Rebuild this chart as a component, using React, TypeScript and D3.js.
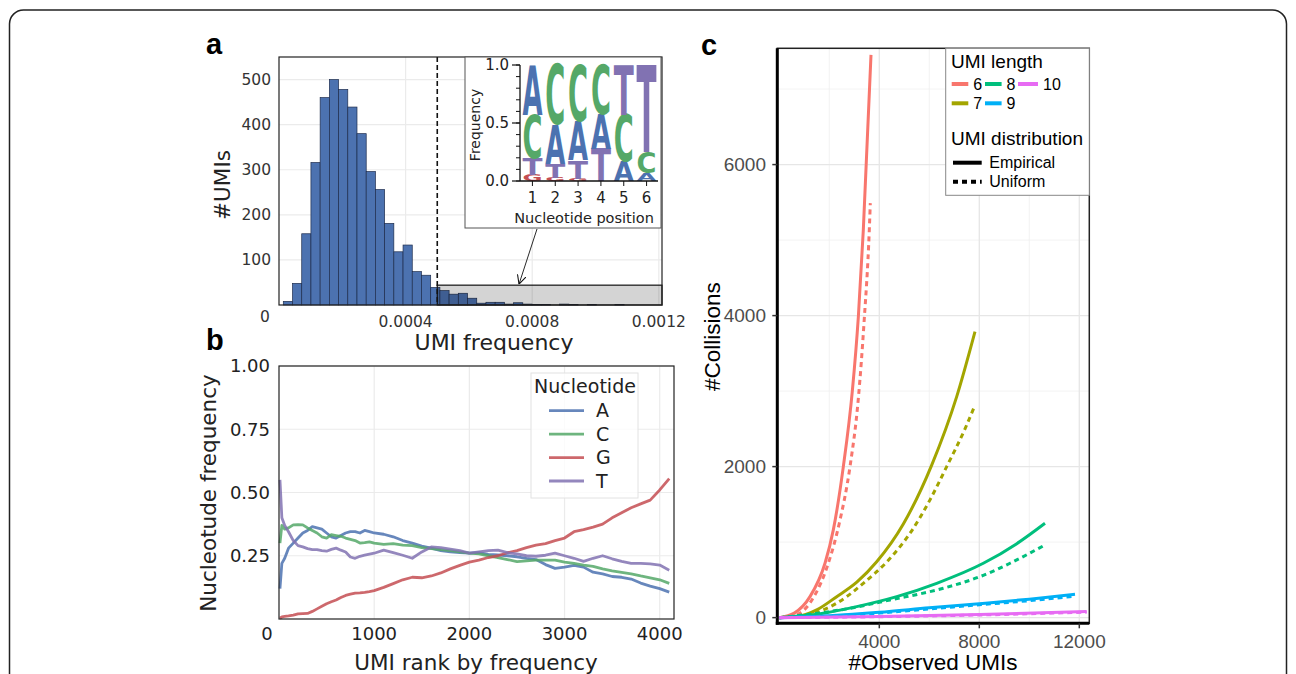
import React, { useEffect, useRef } from "react"
import * as d3 from "d3"

const W = 1296
const H = 674
const MPL_FONT = "'DejaVu Sans', sans-serif"
const GG_FONT = "'Liberation Sans', Arial, sans-serif"

// ---- panel a: histogram of UMI frequencies ----
const HIST_START = 0.0000136
const HIST_BIN = 0.0000291
const HIST_COUNTS = [8, 48, 158, 316, 460, 500, 478, 439, 380, 296, 256, 181, 118, 133, 74, 66, 39, 32, 24, 26, 15, 4, 6, 6, 2, 5, 2, 1, 1, 0, 2, 1, 0, 1, 0, 0, 1]
const HIST_CUTOFF = 0.0005
const HIST_BOX_TOP = 44
const A_YTICKS = [100, 200, 300, 400, 500]
const A_XTICKS = [0.0004, 0.0008, 0.0012]
const A_XLABELS = ["0.0004", "0.0008", "0.0012"]

// inset logo (frequency of each nucleotide per position)
const POSITIONS = [1, 2, 3, 4, 5, 6]
const NUCS = ["A", "C", "G", "T"]
const NUC_COLORS = ["#4c72b0", "#55a868", "#c44e52", "#8172b2"]
const LOGO_A = [0.43, 0.34, 0.34, 0.3, 0.17, 0.07]
const LOGO_C = [0.37, 0.51, 0.48, 0.42, 0.4, 0.18]
const LOGO_G = [0.05, 0.03, 0.02, 0.0, 0.0, 0.0]
const LOGO_T = [0.15, 0.12, 0.16, 0.28, 0.43, 0.75]
const LOGO_YTICKS = [0, 0.5, 1]
const LOGO_YLABELS = ["0.0", "0.5", "1.0"]

// ---- panel b: nucleotide frequency by UMI rank ----
const RANKS = [10, 30, 60, 100, 150, 200, 250, 300, 350, 400, 450, 500, 550, 600, 650, 700, 750, 800, 850, 900, 950, 1000, 1100, 1200, 1300, 1400, 1500, 1600, 1700, 1800, 1900, 2000, 2100, 2200, 2300, 2400, 2500, 2600, 2700, 2800, 2900, 3000, 3100, 3200, 3300, 3400, 3500, 3600, 3700, 3800, 3900, 4000, 4100]
const FREQ_A = [0.12, 0.22, 0.24, 0.28, 0.3, 0.32, 0.34, 0.35, 0.365, 0.36, 0.355, 0.34, 0.325, 0.32, 0.33, 0.34, 0.345, 0.345, 0.34, 0.35, 0.345, 0.34, 0.335, 0.325, 0.31, 0.3, 0.288, 0.28, 0.27, 0.265, 0.262, 0.26, 0.262, 0.255, 0.253, 0.25, 0.246, 0.24, 0.235, 0.215, 0.2, 0.205, 0.212, 0.205, 0.185, 0.178, 0.168, 0.165, 0.158, 0.142, 0.13, 0.12, 0.106]
const FREQ_C = [0.3, 0.37, 0.355, 0.36, 0.372, 0.373, 0.372, 0.36, 0.35, 0.34, 0.325, 0.32, 0.333, 0.33, 0.327, 0.32, 0.315, 0.31, 0.3, 0.302, 0.305, 0.3, 0.295, 0.298, 0.292, 0.29, 0.282, 0.278, 0.274, 0.27, 0.265, 0.26, 0.257, 0.25, 0.243, 0.235, 0.227, 0.23, 0.233, 0.233, 0.233, 0.225, 0.22, 0.213, 0.208, 0.198, 0.19, 0.184, 0.178, 0.17, 0.163, 0.155, 0.141]
const FREQ_G = [0.003, 0.008, 0.01, 0.012, 0.015, 0.02, 0.021, 0.022, 0.03, 0.04, 0.05, 0.06, 0.068, 0.075, 0.085, 0.093, 0.098, 0.102, 0.103, 0.105, 0.108, 0.112, 0.125, 0.14, 0.155, 0.165, 0.163, 0.17, 0.182, 0.198, 0.212, 0.225, 0.233, 0.243, 0.25, 0.262, 0.27, 0.282, 0.292, 0.298, 0.31, 0.32, 0.345, 0.353, 0.363, 0.375, 0.4, 0.42, 0.44, 0.455, 0.47, 0.51, 0.555]
const FREQ_T = [0.55, 0.4, 0.37, 0.345, 0.31, 0.29, 0.285, 0.278, 0.274, 0.274, 0.27, 0.268, 0.275, 0.28, 0.272, 0.265, 0.245, 0.24, 0.248, 0.252, 0.256, 0.26, 0.272, 0.262, 0.252, 0.24, 0.265, 0.285, 0.282, 0.276, 0.27, 0.26, 0.265, 0.27, 0.272, 0.262, 0.257, 0.25, 0.248, 0.252, 0.26, 0.25, 0.24, 0.228, 0.24, 0.25, 0.238, 0.228, 0.22, 0.22, 0.218, 0.213, 0.193]
const B_YTICKS = [0.25, 0.5, 0.75, 1]
const B_YLABELS = ["0.25", "0.50", "0.75", "1.00"]
const B_XTICKS = [1000, 2000, 3000, 4000]

// ---- panel c: collisions vs observed UMIs ----
const UMI_LENGTHS = ["6", "7", "8", "9", "10"]
const LEN_COLORS = ["#F8766D", "#A3A500", "#00BF7D", "#00B0F6", "#E76BF3"]
const L6_EMP = [[0, 0], [600, 60], [1228, 278], [1828, 720], [2161, 1162], [2561, 2000], [2921, 3000], [3161, 3980], [3361, 5135], [3668, 7453]]
const L6_UNI = [[0, 0], [700, 40], [1388, 278], [1961, 720], [2400, 1250], [2828, 2000], [3161, 2900], [3388, 3900], [3600, 5135], [3640, 5489]]
const L7_EMP = [[0, 0], [800, 20], [1496, 102], [2296, 278], [3100, 470], [3896, 740], [4961, 1240], [6096, 2020], [7096, 2927], [7828, 3788]]
const L7_UNI = [[0, 0], [1000, 30], [1761, 102], [2696, 278], [3361, 455], [4361, 760], [5296, 1150], [6028, 1560], [6696, 2000], [7428, 2500], [7828, 2815]]
const L8_EMP = [[0, 0], [1761, 58], [3096, 146], [4696, 278], [6296, 455], [8161, 720], [9500, 980], [10628, 1250]]
const L8_UNI = [[0, 0], [2828, 124], [4428, 234], [6561, 389], [8028, 543], [9228, 720], [10628, 963]]
const L9_EMP = [[0, 0], [2000, 25], [4000, 70], [6000, 130], [8000, 185], [10000, 245], [11828, 310]]
const L9_UNI = [[0, 0], [2000, 20], [4000, 60], [6000, 115], [8000, 170], [10000, 225], [11828, 285]]
const L10_EMP = [[0, 0], [4000, 15], [8000, 40], [12295, 80]]
const L10_UNI = [[0, 0], [4000, 12], [8000, 35], [12295, 72]]
const C_YTICKS = [0, 2000, 4000, 6000]
const C_YMINOR = [1000, 3000, 5000, 7000]
const C_XTICKS = [4000, 8000, 12000]
const C_XMINOR = [2000, 6000, 10000]

function hLines(g, vals, x1, x2, y, color, width) {
  g.append("g")
    .selectAll("line")
    .data(vals)
    .join("line")
    .attr("x1", x1)
    .attr("x2", x2)
    .attr("y1", (d) => y(d))
    .attr("y2", (d) => y(d))
    .attr("stroke", color)
    .attr("stroke-width", width)
}

function vLines(g, vals, y1, y2, x, color, width) {
  g.append("g")
    .selectAll("line")
    .data(vals)
    .join("line")
    .attr("y1", y1)
    .attr("y2", y2)
    .attr("x1", (d) => x(d))
    .attr("x2", (d) => x(d))
    .attr("stroke", color)
    .attr("stroke-width", width)
}

function drawA(svg) {
  const x = d3.scaleLinear().domain([0, 0.00121]).range([279, 662])
  const y = d3.scaleLinear().domain([0, 550]).range([305, 57])
  const g = svg.append("g").attr("font-family", MPL_FONT)

  hLines(g, A_YTICKS, 279, 662, y, "#ebebeb", 1.2)
  vLines(g, A_XTICKS, 57, 305, x, "#ebebeb", 1.2)

  const bins = HIST_COUNTS.map((c, i) => ({ x0: HIST_START + i * HIST_BIN, c })).filter((d) => d.c > 0)
  g.append("g")
    .selectAll("rect")
    .data(bins)
    .join("rect")
    .attr("x", (d) => x(d.x0))
    .attr("width", x(HIST_BIN) - x(0))
    .attr("y", (d) => y(d.c))
    .attr("height", (d) => y(0) - y(d.c))
    .attr("fill", "#4c72b0")
    .attr("stroke", "#1e2d4d")
    .attr("stroke-width", 0.7)

  // shaded tail region
  g.append("rect")
    .attr("x", x(HIST_CUTOFF))
    .attr("y", y(HIST_BOX_TOP))
    .attr("width", 662 - x(HIST_CUTOFF))
    .attr("height", y(0) - y(HIST_BOX_TOP))
    .attr("fill", "rgba(0,0,0,0.17)")
    .attr("stroke", "#111")
    .attr("stroke-width", 1.2)

  g.append("line")
    .attr("x1", x(HIST_CUTOFF))
    .attr("x2", x(HIST_CUTOFF))
    .attr("y1", 57)
    .attr("y2", 305)
    .attr("stroke", "#111")
    .attr("stroke-width", 1.6)
    .attr("stroke-dasharray", "5,3")

  g.append("rect")
    .attr("x", 279)
    .attr("y", 57)
    .attr("width", 383)
    .attr("height", 248)
    .attr("fill", "none")
    .attr("stroke", "#222")
    .attr("stroke-width", 1.2)

  g.append("g")
    .selectAll("text")
    .data(A_YTICKS)
    .join("text")
    .attr("x", 271)
    .attr("y", (d) => y(d))
    .attr("dy", "0.35em")
    .attr("text-anchor", "end")
    .attr("font-size", 15.5)
    .attr("fill", "#333")
    .text((d) => d)
  g.append("text")
    .attr("x", 265)
    .attr("y", y(0) + 12)
    .attr("dy", "0.35em")
    .attr("text-anchor", "middle")
    .attr("font-size", 15.5)
    .attr("fill", "#333")
    .text("0")
  g.append("g")
    .selectAll("text")
    .data(A_XTICKS)
    .join("text")
    .attr("x", (d) => x(d))
    .attr("y", 322)
    .attr("dy", "0.35em")
    .attr("text-anchor", "middle")
    .attr("font-size", 15.5)
    .attr("fill", "#333")
    .text((d, i) => A_XLABELS[i])

  g.append("text")
    .attr("transform", "translate(222,185) rotate(-90)")
    .attr("dy", "0.35em")
    .attr("text-anchor", "middle")
    .attr("font-size", 21.5)
    .attr("fill", "#222")
    .text("#UMIs")
  g.append("text")
    .attr("x", 494)
    .attr("y", 342)
    .attr("dy", "0.35em")
    .attr("text-anchor", "middle")
    .attr("font-size", 22)
    .attr("fill", "#222")
    .text("UMI frequency")

  // ---- inset logo ----
  g.append("rect")
    .attr("x", 465)
    .attr("y", 57)
    .attr("width", 196)
    .attr("height", 171)
    .attr("fill", "#fff")
    .attr("stroke", "#555")
    .attr("stroke-width", 1)

  const lx = d3.scaleLinear().domain([0.5, 6.5]).range([521, 658])
  const ly = d3.scaleLinear().domain([0, 1]).range([181, 65])
  const logo = [LOGO_A, LOGO_C, LOGO_G, LOGO_T]
  const letterW = 20
  POSITIONS.forEach((p, i) => {
    const stack = NUCS.map((n, k) => ({ n, k, f: logo[k][i] })).sort((a, b) => a.f - b.f)
    let cum = 0
    stack.forEach((s) => {
      const h = ly(cum) - ly(cum + s.f)
      if (h > 0.5) {
        g.append("text")
          .attr("x", 0)
          .attr("y", 0)
          .attr("font-size", 100)
          .attr("font-weight", "bold")
          .attr("textLength", letterW)
          .attr("lengthAdjust", "spacingAndGlyphs")
          .attr("fill", NUC_COLORS[s.k])
          .attr("transform", `translate(${lx(p) - letterW / 2},${ly(cum)}) scale(1,${h / 73})`)
          .text(s.n)
      }
      cum += s.f
    })
  })

  g.append("line").attr("x1", 520).attr("x2", 520).attr("y1", 65).attr("y2", 181).attr("stroke", "#111").attr("stroke-width", 1.3)
  g.append("line").attr("x1", 520).attr("x2", 658).attr("y1", 181).attr("y2", 181).attr("stroke", "#111").attr("stroke-width", 1.3)
  const minor = d3.range(0, 1.001, 0.1)
  g.append("g")
    .selectAll("line")
    .data(minor)
    .join("line")
    .attr("x1", 516)
    .attr("x2", 520)
    .attr("y1", (d) => ly(d))
    .attr("y2", (d) => ly(d))
    .attr("stroke", "#111")
  g.append("g")
    .selectAll("line")
    .data(LOGO_YTICKS)
    .join("line")
    .attr("x1", 512)
    .attr("x2", 520)
    .attr("y1", (d) => ly(d))
    .attr("y2", (d) => ly(d))
    .attr("stroke", "#111")
    .attr("stroke-width", 1.2)
  g.append("g")
    .selectAll("text")
    .data(LOGO_YTICKS)
    .join("text")
    .attr("x", 509)
    .attr("y", (d) => ly(d))
    .attr("dy", "0.35em")
    .attr("text-anchor", "end")
    .attr("font-size", 15)
    .attr("fill", "#222")
    .text((d, i) => LOGO_YLABELS[i])
  g.append("g")
    .selectAll("line")
    .data(POSITIONS)
    .join("line")
    .attr("x1", (d) => lx(d))
    .attr("x2", (d) => lx(d))
    .attr("y1", 181)
    .attr("y2", 186)
    .attr("stroke", "#111")
  g.append("g")
    .selectAll("text")
    .data(POSITIONS)
    .join("text")
    .attr("x", (d) => lx(d))
    .attr("y", 198)
    .attr("dy", "0.35em")
    .attr("text-anchor", "middle")
    .attr("font-size", 15)
    .attr("fill", "#222")
    .text((d) => d)
  g.append("text")
    .attr("x", 584)
    .attr("y", 218)
    .attr("dy", "0.35em")
    .attr("text-anchor", "middle")
    .attr("font-size", 14.5)
    .attr("fill", "#222")
    .text("Nucleotide position")
  g.append("text")
    .attr("transform", "translate(475,125) rotate(-90)")
    .attr("dy", "0.35em")
    .attr("text-anchor", "middle")
    .attr("font-size", 14)
    .attr("fill", "#222")
    .text("Frequency")

  // arrow from inset to shaded region
  const defs = svg.append("defs")
  defs
    .append("marker")
    .attr("id", "arrowhead")
    .attr("viewBox", "0 0 10 10")
    .attr("refX", 10)
    .attr("refY", 5)
    .attr("markerWidth", 9)
    .attr("markerHeight", 9)
    .attr("markerUnits", "userSpaceOnUse")
    .attr("orient", "auto")
    .append("path")
    .attr("d", "M0,0 L10,5 L0,10")
    .attr("fill", "none")
    .attr("stroke", "#111")
    .attr("stroke-width", 1.2)
  g.append("line")
    .attr("x1", 537)
    .attr("y1", 229)
    .attr("x2", 519)
    .attr("y2", y(HIST_BOX_TOP) - 1)
    .attr("stroke", "#111")
    .attr("stroke-width", 0.9)
    .attr("marker-end", "url(#arrowhead)")
}

function drawB(svg) {
  const x = d3.scaleLinear().domain([0, 4150]).range([279, 674])
  const y = d3.scaleLinear().domain([0, 1]).range([619, 366])
  const g = svg.append("g").attr("font-family", MPL_FONT)

  hLines(g, B_YTICKS, 279, 674, y, "#ebebeb", 1.2)
  vLines(g, B_XTICKS, 366, 619, x, "#ebebeb", 1.2)

  const series = [FREQ_A, FREQ_C, FREQ_G, FREQ_T]
  const line = d3
    .line()
    .x((d) => x(d[0]))
    .y((d) => y(d[1]))
  series.forEach((vals, k) => {
    g.append("path")
      .attr("d", line(RANKS.map((r, i) => [r, vals[i]])))
      .attr("fill", "none")
      .attr("stroke", NUC_COLORS[k])
      .attr("stroke-opacity", 0.85)
      .attr("stroke-width", 2.8)
      .attr("stroke-linejoin", "round")
  })

  g.append("rect")
    .attr("x", 279)
    .attr("y", 366)
    .attr("width", 395)
    .attr("height", 253)
    .attr("fill", "none")
    .attr("stroke", "#222")
    .attr("stroke-width", 1.2)

  g.append("g")
    .selectAll("text")
    .data(B_YTICKS)
    .join("text")
    .attr("x", 270)
    .attr("y", (d) => y(d))
    .attr("dy", "0.35em")
    .attr("text-anchor", "end")
    .attr("font-size", 18)
    .attr("fill", "#222")
    .text((d, i) => B_YLABELS[i])
  g.append("text")
    .attr("x", 267)
    .attr("y", 634)
    .attr("dy", "0.35em")
    .attr("text-anchor", "middle")
    .attr("font-size", 18)
    .attr("fill", "#222")
    .text("0")
  g.append("g")
    .selectAll("text")
    .data(B_XTICKS)
    .join("text")
    .attr("x", (d) => x(d))
    .attr("y", 634)
    .attr("dy", "0.35em")
    .attr("text-anchor", "middle")
    .attr("font-size", 18)
    .attr("fill", "#222")
    .text((d) => d)

  g.append("text")
    .attr("transform", "translate(208,493) rotate(-90)")
    .attr("dy", "0.35em")
    .attr("text-anchor", "middle")
    .attr("font-size", 21.5)
    .attr("fill", "#222")
    .text("Nucleotude frequency")
  g.append("text")
    .attr("x", 476)
    .attr("y", 662)
    .attr("dy", "0.35em")
    .attr("text-anchor", "middle")
    .attr("font-size", 21.5)
    .attr("fill", "#222")
    .text("UMI rank by frequency")

  // legend
  g.append("rect")
    .attr("x", 531)
    .attr("y", 373)
    .attr("width", 107)
    .attr("height", 125)
    .attr("fill", "rgba(255,255,255,0.8)")
    .attr("stroke", "#e2e2e2")
  g.append("text")
    .attr("x", 585)
    .attr("y", 386)
    .attr("dy", "0.35em")
    .attr("text-anchor", "middle")
    .attr("font-size", 19)
    .attr("fill", "#222")
    .text("Nucleotide")
  const ly = d3.scalePoint().domain(NUCS).range([410.7, 481])
  NUCS.forEach((n, k) => {
    g.append("line")
      .attr("x1", 549)
      .attr("x2", 584)
      .attr("y1", ly(n))
      .attr("y2", ly(n))
      .attr("stroke", NUC_COLORS[k])
      .attr("stroke-opacity", 0.85)
      .attr("stroke-width", 2.8)
    g.append("text")
      .attr("x", 596)
      .attr("y", ly(n))
      .attr("dy", "0.35em")
      .attr("font-size", 19)
      .attr("fill", "#222")
      .text(n)
  })
}

function drawC(svg) {
  const x = d3.scaleLinear().domain([-80, 12400]).range([777.3, 1089.3])
  const y = d3.scaleLinear().domain([-75, 7540]).range([623.3, 48.3])
  const g = svg.append("g").attr("font-family", GG_FONT)
  const L = 777.3, R = 1089.3, T = 48.3, B = 623.3

  hLines(g, C_YMINOR, L, R, y, "#f0f0f0", 0.8)
  vLines(g, C_XMINOR, T, B, x, "#f0f0f0", 0.8)
  hLines(g, C_YTICKS, L, R, y, "#e6e6e6", 1.3)
  vLines(g, C_XTICKS, T, B, x, "#e6e6e6", 1.3)

  const curve = d3
    .line()
    .x((d) => x(d[0]))
    .y((d) => y(d[1]))
    .curve(d3.curveMonotoneX)
  const emp = [L6_EMP, L7_EMP, L8_EMP, L9_EMP, L10_EMP]
  const uni = [L6_UNI, L7_UNI, L8_UNI, L9_UNI, L10_UNI]
  UMI_LENGTHS.forEach((len, k) => {
    g.append("path")
      .attr("d", curve(uni[k]))
      .attr("fill", "none")
      .attr("stroke", LEN_COLORS[k])
      .attr("stroke-width", 3)
      .attr("stroke-dasharray", "5,4")
    g.append("path")
      .attr("d", curve(emp[k]))
      .attr("fill", "none")
      .attr("stroke", LEN_COLORS[k])
      .attr("stroke-width", 3)
  })

  g.append("rect")
    .attr("x", L)
    .attr("y", T)
    .attr("width", R - L)
    .attr("height", B - T)
    .attr("fill", "none")
    .attr("stroke", "#222")
    .attr("stroke-width", 1.5)
  g.append("line").attr("x1", L).attr("x2", L).attr("y1", T).attr("y2", B + 1.5).attr("stroke", "#000").attr("stroke-width", 3)
  g.append("line").attr("x1", L - 1.5).attr("x2", R).attr("y1", B).attr("y2", B).attr("stroke", "#000").attr("stroke-width", 3)

  g.append("g")
    .selectAll("line")
    .data(C_YTICKS)
    .join("line")
    .attr("x1", L - 5)
    .attr("x2", L)
    .attr("y1", (d) => y(d))
    .attr("y2", (d) => y(d))
    .attr("stroke", "#333")
    .attr("stroke-width", 1.5)
  g.append("g")
    .selectAll("line")
    .data(C_XTICKS)
    .join("line")
    .attr("x1", (d) => x(d))
    .attr("x2", (d) => x(d))
    .attr("y1", B)
    .attr("y2", B + 5)
    .attr("stroke", "#333")
    .attr("stroke-width", 1.5)
  g.append("g")
    .selectAll("text")
    .data(C_YTICKS)
    .join("text")
    .attr("x", 766)
    .attr("y", (d) => y(d))
    .attr("dy", "0.35em")
    .attr("text-anchor", "end")
    .attr("font-size", 19)
    .attr("fill", "#4d4d4d")
    .text((d) => d)
  g.append("g")
    .selectAll("text")
    .data(C_XTICKS)
    .join("text")
    .attr("x", (d) => x(d))
    .attr("y", 641.7)
    .attr("dy", "0.35em")
    .attr("text-anchor", "middle")
    .attr("font-size", 19)
    .attr("fill", "#4d4d4d")
    .text((d) => d)

  g.append("text")
    .attr("x", 933)
    .attr("y", 661.7)
    .attr("dy", "0.35em")
    .attr("text-anchor", "middle")
    .attr("font-size", 22.5)
    .attr("fill", "#000")
    .text("#Observed UMIs")
  g.append("text")
    .attr("transform", "translate(711.7,336.7) rotate(-90)")
    .attr("dy", "0.35em")
    .attr("text-anchor", "middle")
    .attr("font-size", 22.5)
    .attr("fill", "#000")
    .text("#Collisions")

  // legend
  g.append("rect")
    .attr("x", 945.7)
    .attr("y", T)
    .attr("width", R - 945.7)
    .attr("height", 147)
    .attr("fill", "#fff")
    .attr("stroke", "#888")
    .attr("stroke-width", 1)
  g.append("text").attr("x", 951).attr("y", 68).attr("font-size", 19).attr("fill", "#000").text("UMI length")
  const keyX = [951.7, 951.7, 985, 985, 1018]
  const keyW = [16.6, 16.6, 16.6, 16.6, 20]
  const keyY = [84, 103.3, 84, 103.3, 84]
  UMI_LENGTHS.forEach((len, k) => {
    g.append("line")
      .attr("x1", keyX[k])
      .attr("x2", keyX[k] + keyW[k])
      .attr("y1", keyY[k])
      .attr("y2", keyY[k])
      .attr("stroke", LEN_COLORS[k])
      .attr("stroke-width", 4)
    g.append("text")
      .attr("x", keyX[k] + keyW[k] + 5)
      .attr("y", keyY[k])
      .attr("dy", "0.36em")
      .attr("font-size", 16)
      .attr("fill", "#000")
      .text(len)
  })
  g.append("text").attr("x", 951).attr("y", 145).attr("font-size", 19).attr("fill", "#000").text("UMI distribution")
  g.append("line").attr("x1", 953).attr("x2", 981.7).attr("y1", 162.7).attr("y2", 162.7).attr("stroke", "#000").attr("stroke-width", 4)
  g.append("line").attr("x1", 953).attr("x2", 981.7).attr("y1", 181.7).attr("y2", 181.7).attr("stroke", "#000").attr("stroke-width", 4).attr("stroke-dasharray", "5,4")
  g.append("text").attr("x", 989.3).attr("y", 162.7).attr("dy", "0.36em").attr("font-size", 16).attr("fill", "#000").text("Empirical")
  g.append("text").attr("x", 989.3).attr("y", 181.7).attr("dy", "0.36em").attr("font-size", 16).attr("fill", "#000").text("Uniform")
}

export default function App() {
  const ref = useRef(null)

  useEffect(() => {
    const svg = d3.select(ref.current)
    svg.selectAll("*").remove()

    // outer rounded frame
    svg
      .append("rect")
      .attr("x", 9.5)
      .attr("y", 10)
      .attr("width", 1277)
      .attr("height", 720)
      .attr("rx", 14)
      .attr("fill", "#fff")
      .attr("stroke", "#222")
      .attr("stroke-width", 1.5)

    drawA(svg)
    drawB(svg)
    drawC(svg)

    const labels = [
      { t: "a", x: 206, y: 54 },
      { t: "b", x: 206, y: 350 },
      { t: "c", x: 701, y: 55 },
    ]
    svg
      .append("g")
      .selectAll("text")
      .data(labels)
      .join("text")
      .attr("x", (d) => d.x)
      .attr("y", (d) => d.y)
      .attr("font-family", GG_FONT)
      .attr("font-weight", "bold")
      .attr("font-size", 29)
      .attr("fill", "#000")
      .text((d) => d.t)
  }, [])

  return (
    <svg
      ref={ref}
      width={W}
      height={H}
      style={{ position: "absolute", left: 0, top: 0, background: "#fff" }}
    />
  )
}
